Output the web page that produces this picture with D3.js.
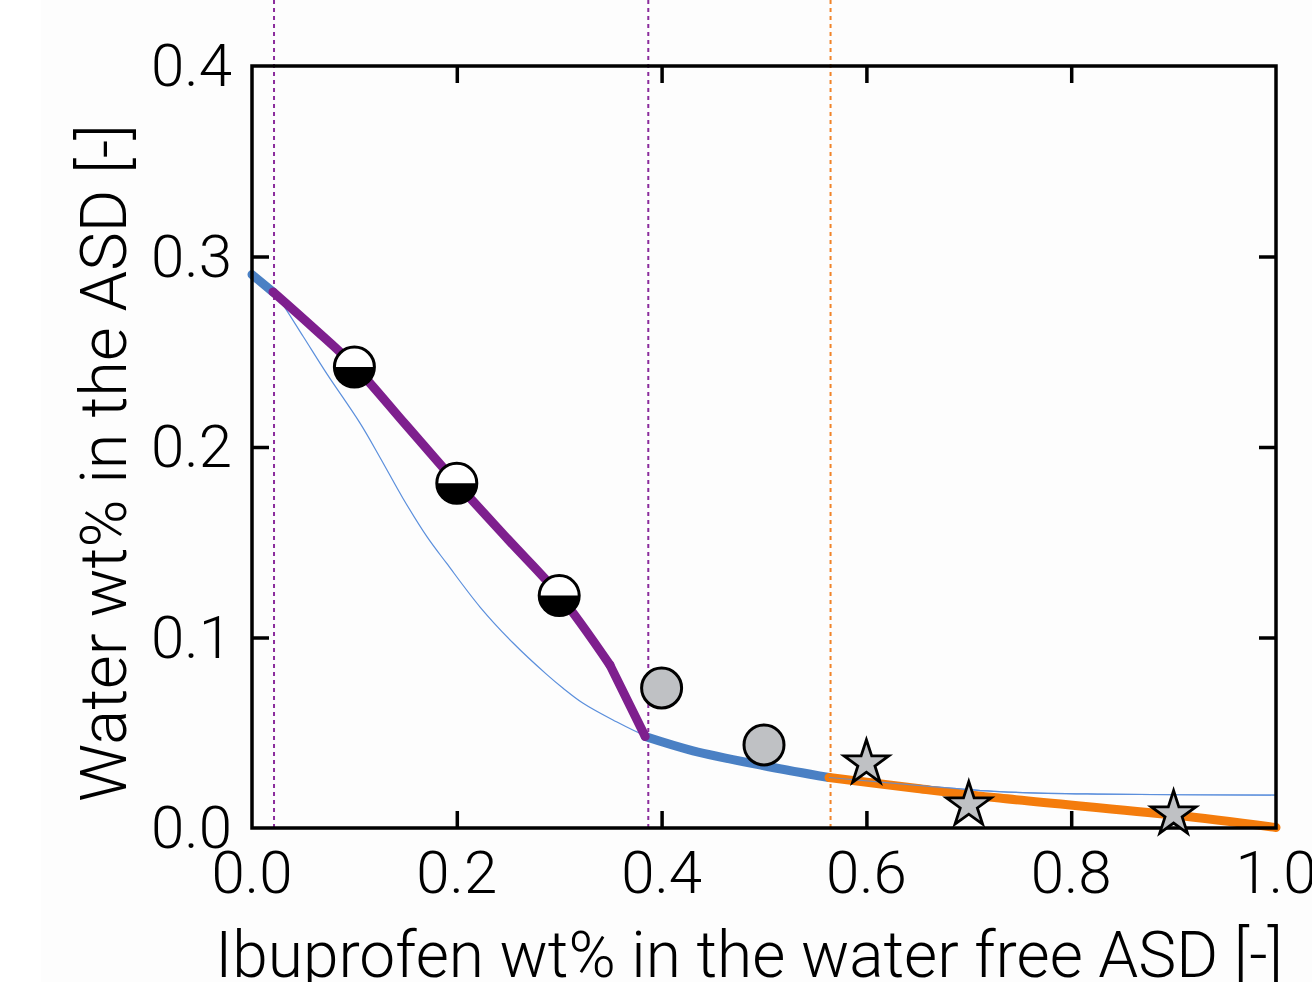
<!DOCTYPE html>
<html>
<head>
<meta charset="utf-8">
<title>Water content vs ibuprofen loading</title>
<script src="https://d3js.org/d3.v7.min.js"></script>
<style>
  body { margin: 0; background: #fdfdfd; }
  svg { display: block; }
  text { font-family: Roboto, "Open Sans", sans-serif; font-weight: 300; fill: #000; }
</style>
</head>
<body>
<div id="chart"></div>
<script>
// ---- data ----
// thick model line, split by colour (blue / purple / blue / orange)
var blueLeftX = [0.000, 0.0205];
var blueLeftY = [0.2905, 0.2814];
var purpleX = [0.0205, 0.060, 0.100, 0.150, 0.200, 0.250, 0.300, 0.3496];
var purpleY = [0.2814, 0.2625, 0.2425, 0.2118, 0.181, 0.1515, 0.1223, 0.0855];
// last straight piece of the purple line, after the kink
var purpleTailX = [0.3496, 0.384];
var purpleTailY = [0.0855, 0.048];
var blueMidX = [0.384, 0.4307, 0.497, 0.5635];
var blueMidY = [0.048, 0.0405, 0.033, 0.0265];
var orangeX = [0.5635, 0.650, 0.730, 0.900, 1.000];
var orangeY = [0.0265, 0.0207, 0.0157, 0.0068, 0.0003];

// thin model line
var thinX = [0.000, 0.0205, 0.0273, 0.050, 0.073, 0.1055, 0.125, 0.1475, 0.171, 0.190, 0.2227, 0.255, 0.288, 0.3035, 0.323, 0.3525, 0.384, 0.4307, 0.497, 0.5635, 0.650, 0.730, 0.828, 1.000];
var thinY = [0.2905, 0.2814, 0.277, 0.258, 0.2385, 0.2125, 0.1945, 0.173, 0.1528, 0.139, 0.116, 0.0971, 0.0805, 0.0735, 0.0656, 0.0567, 0.0485, 0.0405, 0.033, 0.0265, 0.0224, 0.0191, 0.0178, 0.0173];

// measured points
var halfX = [0.1, 0.2, 0.3];
var halfY = [0.242, 0.181, 0.122];
var greyX = [0.4, 0.5];
var greyY = [0.0735, 0.0436];
var starX = [0.6, 0.7, 0.9];
var starY = [0.034, 0.012, 0.0073];

// phase boundaries (dotted)
var boundX = [0.0215, 0.387, 0.565];
var boundColor = ["#8b2c9c", "#8b2c9c", "#f0842a"];

var xTicks = [0, 0.2, 0.4, 0.6, 0.8, 1.0];
var yTicks = [0, 0.1, 0.2, 0.3, 0.4];

function zip(xs, ys) { return xs.map(function(v, i) { return [v, ys[i]]; }); }

// ---- layout ----
var W = 1312, H = 982;
var margin = {top: 66, left: 252},
    width = 1024,
    height = 762;

var svg = d3.select("#chart").append("svg")
  .attr("width", W).attr("height", H);

// whiter strip on the left edge like the original
svg.append("rect").attr("x", 0).attr("y", 0).attr("width", 41).attr("height", H).attr("fill", "#ffffff");

var g = svg.append("g")
  .attr("transform", "translate(" + margin.left + "," + margin.top + ")");

var x = d3.scaleLinear().domain([0, 1]).range([0, width]);
var y = d3.scaleLinear().domain([0, 0.4]).range([height, 0]);

var line = d3.line()
  .x(function(d) { return x(d[0]); })
  .y(function(d) { return y(d[1]); })
  .curve(d3.curveCatmullRom.alpha(0.5));

// dotted boundaries, running up past the frame to the top of the page
g.selectAll(".bound")
  .data(boundX)
  .enter().append("line")
    .attr("x1", function(d) { return x(d); })
    .attr("x2", function(d) { return x(d); })
    .attr("y1", -margin.top)
    .attr("y2", height)
    .attr("stroke", function(d, i) { return boundColor[i]; })
    .attr("stroke-width", 2)
    .attr("stroke-dasharray", "4,4");

// thin line first, thick segments on top
g.append("path").datum(zip(thinX, thinY))
  .attr("d", line).attr("fill", "none")
  .attr("stroke", "#5b8fdc").attr("stroke-width", 1.2);

var segs = [
  {xs: blueLeftX, ys: blueLeftY, c: "#4a80c4"},
  {xs: blueMidX, ys: blueMidY, c: "#4a80c4"},
  {xs: orangeX, ys: orangeY, c: "#f47c0c"},
  {xs: purpleX, ys: purpleY, c: "#7e1f8e"},
  {xs: purpleTailX, ys: purpleTailY, c: "#7e1f8e"}
];
segs.forEach(function(s) {
  g.append("path").datum(zip(s.xs, s.ys))
    .attr("d", line).attr("fill", "none")
    .attr("stroke", s.c).attr("stroke-width", 9)
    .attr("stroke-linecap", "round");
});

// thin line stays visible above the orange on the right
g.append("path").datum(zip(thinX, thinY).filter(function(d) { return d[0] >= 0.5635; }))
  .attr("d", line).attr("fill", "none")
  .attr("stroke", "#5b8fdc").attr("stroke-width", 1.2).attr("opacity", 0.8);

// frame
g.append("rect")
  .attr("x", 0).attr("y", 0).attr("width", width).attr("height", height)
  .attr("fill", "none").attr("stroke", "#000").attr("stroke-width", 3.5);

// inward ticks on all four sides
var tl = 17;
var xt = xTicks.slice(1, -1), yt = yTicks.slice(1, -1);
function styleTicks(a) { a.select(".domain").remove(); a.selectAll("line").attr("stroke-width", 3.5); }
g.append("g").attr("transform", "translate(0," + height + ")")
  .call(d3.axisBottom(x).tickValues(xt).tickSize(-tl).tickFormat("")).call(styleTicks);
g.append("g")
  .call(d3.axisTop(x).tickValues(xt).tickSize(-tl).tickFormat("")).call(styleTicks);
g.append("g")
  .call(d3.axisLeft(y).tickValues(yt).tickSize(-tl).tickFormat("")).call(styleTicks);
g.append("g").attr("transform", "translate(" + width + ",0)")
  .call(d3.axisRight(y).tickValues(yt).tickSize(-tl).tickFormat("")).call(styleTicks);

// tick labels
g.selectAll(".xl").data(xTicks).enter().append("text")
  .attr("x", function(d) { return x(d); })
  .attr("y", height + 65)
  .attr("text-anchor", "middle")
  .style("font-size", "60px")
  .text(function(d) { return d3.format(".1f")(d); });
g.selectAll(".yl").data(yTicks).enter().append("text")
  .attr("x", -20)
  .attr("y", function(d) { return y(d) + 20; })
  .attr("text-anchor", "end")
  .style("font-size", "60px")
  .text(function(d) { return d3.format(".1f")(d); });

// axis titles
svg.append("text")
  .attr("x", 749).attr("y", 977)
  .attr("text-anchor", "middle")
  .style("font-size", "64px")
  .text("Ibuprofen wt% in the water free ASD [-]");
svg.append("text")
  .attr("transform", "translate(126,463) rotate(-90)")
  .attr("text-anchor", "middle")
  .style("font-size", "65px")
  .text("Water wt% in the ASD [-]");

// markers
var r = 20;
var halfArc = d3.arc().innerRadius(0).outerRadius(r)
  .startAngle(Math.PI / 2).endAngle(3 * Math.PI / 2);
var half = g.selectAll(".half").data(zip(halfX, halfY)).enter().append("g")
  .attr("transform", function(d) { return "translate(" + x(d[0]) + "," + y(d[1]) + ")"; });
half.append("circle").attr("r", r).attr("fill", "#fff");
half.append("path").attr("d", halfArc).attr("fill", "#000");
half.append("circle").attr("r", r).attr("fill", "none").attr("stroke", "#000").attr("stroke-width", 3);

g.selectAll(".grey").data(zip(greyX, greyY)).enter().append("circle")
  .attr("cx", function(d) { return x(d[0]); })
  .attr("cy", function(d) { return y(d[1]); })
  .attr("r", r)
  .attr("fill", "#bfc1c4").attr("stroke", "#000").attr("stroke-width", 3);

var star = d3.symbol().type(d3.symbolStar).size(620);
g.selectAll(".star").data(zip(starX, starY)).enter().append("path")
  .attr("d", star)
  .attr("transform", function(d) { return "translate(" + x(d[0]) + "," + y(d[1]) + ")"; })
  .attr("fill", "#bfc1c4").attr("stroke", "#000").attr("stroke-width", 2.8)
  .attr("stroke-linejoin", "miter");
</script>
</body>
</html>
